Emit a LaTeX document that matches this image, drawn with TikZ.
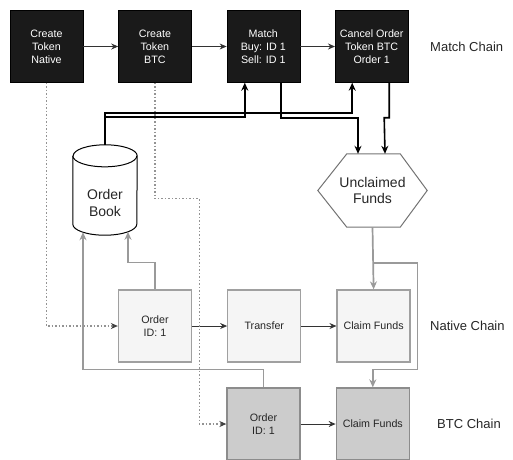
\documentclass[tikz,border=0pt]{standalone}
\usepackage{fontspec}
\setmainfont{Liberation Sans}
\usetikzlibrary{positioning,arrows.meta}

\definecolor{matchfill}{HTML}{1A1A1A}
\definecolor{nativefill}{HTML}{F5F5F5}
\definecolor{btcfill}{HTML}{CCCCCC}
\definecolor{boxline}{HTML}{A0A0A0}
\definecolor{btcline}{HTML}{8C8C8C}
\definecolor{linkgray}{HTML}{9A9A9A}

\begin{document}
\begin{tikzpicture}[x=1pt, y=-1pt,
				node distance=35pt,
				matchnode/.style={rectangle, draw=black, fill=matchfill, text=white, minimum width=73pt, minimum height=72pt, align=center, inner sep=1pt, font=\fontsize{10.7}{13}\selectfont},
				nativenode/.style={matchnode, draw=boxline, fill=nativefill, text=black!85, line width=1.3pt},
				btcnode/.style={nativenode, draw=btcline, fill=btcfill},
				bignode/.style={align=center, inner sep=0pt, font=\fontsize{14}{16.7}\selectfont, text=black!85},
				chainlabel/.style={anchor=west, inner sep=0pt, font=\fontsize{13}{15}\selectfont, text=black!85},
				flow/.style={-{Stealth[length=7pt, width=6pt]}, draw=black!80, line width=0.9pt},
				bookflow/.style={-{Stealth[length=8pt, width=7pt]}, draw=black, line width=1.6pt},
				grayflow/.style={-{Stealth[length=8pt, width=7pt]}, draw=linkgray, line width=1.7pt},
				dotflow/.style={-{Stealth[length=7pt, width=6pt, black!75]}, draw=gray!85, line width=1.3pt, dash pattern=on 1.5pt off 2pt},
				]
				\useasboundingbox (0,0) rectangle (513,459);

				%Nodes
				\node[matchnode]	(m1)	at (46.5,46.5)	{Create\\Token\\Native};
				\node[matchnode]	(m2)	[right=of m1]	{Create\\Token\\BTC};
				\node[matchnode]	(m3)	[right=of m2]	{Match\\Buy: ID 1\\Sell: ID 1};
				\node[matchnode]	(m4)	[right=of m3]	{Cancel Order\\Token BTC\\Order 1};

				\node[nativenode]	(n1)	at (155,326)	{Order\\ID: 1};
				\node[nativenode]	(n2)	[right=of n1]	{Transfer};
				\node[nativenode]	(n3)	[right=of n2]	{Claim Funds};

				\node[btcnode]	(b1)	at (263.5,424)	{Order\\ID: 1};
				\node[btcnode]	(b2)	[right=of b1]	{Claim Funds};

				\node[minimum width=64pt, minimum height=90pt, inner sep=0pt]	(book)	at (105,190)	{};
				\draw[line width=1pt] ([yshift=-11pt]book.north west) -- ([yshift=11pt]book.south west) arc[start angle=180, end angle=360, x radius=32pt, y radius=11pt] -- ([yshift=-11pt]book.north east) arc[start angle=0, end angle=180, x radius=32pt, y radius=11pt];
				\draw[line width=1pt] ([yshift=-11pt]book.north west) arc[start angle=180, end angle=360, x radius=32pt, y radius=11pt];
				\node[bignode]	(booktext)	at (105,203)	{Order\\Book};

				\node[bignode, minimum width=109pt, minimum height=73pt]	(unclaimed)	at (372.5,190.5)	{Unclaimed\\Funds};
				\draw[draw=black!55, line width=1pt] (unclaimed.west) -- ([xshift=29pt]unclaimed.north west) -- ([xshift=-27pt]unclaimed.north east) -- (unclaimed.east) -- ([xshift=-27pt]unclaimed.south east) -- ([xshift=29pt]unclaimed.south west) -- cycle;

				\node[chainlabel]	(matchchain)	at (430,46.5)	{Match Chain};
				\node[chainlabel]	(nativechain)	at (430,326)	{Native Chain};
				\node[chainlabel]	(btcchain)	at (437,424)	{BTC Chain};

				%Lines
				\draw[flow]	(m1.east) -- (m2.west);
				\draw[flow]	(m2.east) -- (m3.west);
				\draw[flow]	(m3.east) -- (m4.west);
				\draw[flow]	(n1.east) -- (n2.west);
				\draw[flow]	(n2.east) -- (n3.west);
				\draw[flow]	(b1.east) -- (b2.west);

				\draw[dotflow]	(m1.south) |- (n1.west);
				\draw[dotflow]	(m2.south) -- ++(0,116) -| ([xshift=-27pt]b1.west) -- (b1.west);

				\draw[bookflow]	(book.north) -- ++(0,-28) -| ([xshift=-18.5pt]m3.south);
				\draw[bookflow]	(book.north) -- ++(0,-32) -| ([xshift=-19.5pt]m4.south);
				\draw[bookflow]	([xshift=17.5pt]m3.south) -- ++(0,35) -| ([xshift=-14.5pt]unclaimed.north);
				\draw[bookflow]	([xshift=17.5pt]m4.south) -- ++(0,35) -- ++(-5,0) -- ([xshift=12.5pt]unclaimed.north);

				\draw[grayflow]	(n1.north) -- ++(0,-27) -| ([xshift=23pt, yshift=3.4pt]book.south);
				\draw[grayflow]	(b1.north) -- ++(0,-18) -| ([xshift=-22pt, yshift=3pt]book.south);
				\draw[grayflow]	(unclaimed.south) -- (n3.north);
				\draw[grayflow]	([yshift=-36pt]unclaimed.south) -- ++(45,0) |- ([yshift=18pt]b2.north) -- (b2.north);
			\end{tikzpicture}
\end{document}
